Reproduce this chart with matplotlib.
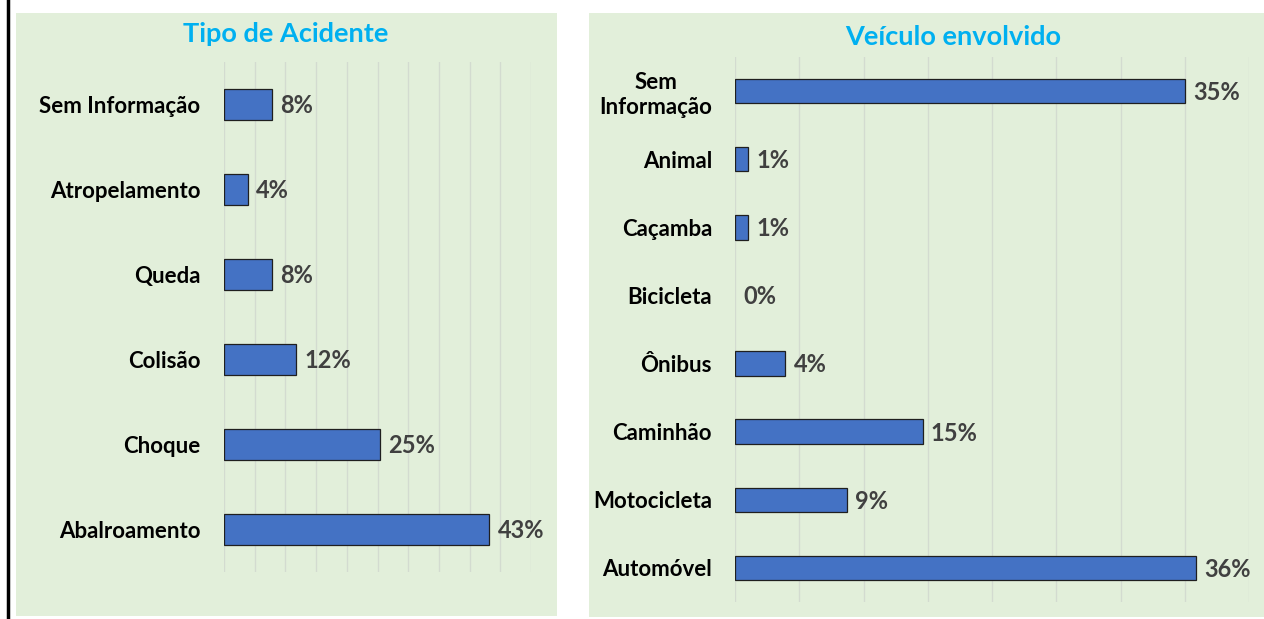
import matplotlib.pyplot as plt
from matplotlib.patches import Rectangle
from matplotlib.lines import Line2D

plt.rcParams["font.family"] = ["Lato", "DejaVu Sans"]

# data, top to bottom as shown
tipo_labels = ["Sem Informação", "Atropelamento", "Queda", "Colisão", "Choque", "Abalroamento"]
tipo_values = [7.8, 3.9, 7.8, 11.7, 25.4, 43.2]

veic_labels = ["Sem\nInformação", "Animal", "Caçamba", "Bicicleta", "Ônibus",
               "Caminhão", "Motocicleta", "Automóvel"]
veic_values = [35.0, 1.0, 1.0, 0.0, 3.9, 14.6, 8.7, 35.9]

BG = "#E2EFDA"
BAR = "#4472C4"
TITLE = "#00B0F0"

W, H = 1264, 619
fig = plt.figure(figsize=(W / 100, H / 100), dpi=100)


def px_rect(x0, y0, x1, y1):
    # pixel box (top-left origin) -> figure fraction rect
    return [x0 / W, 1 - y1 / H, (x1 - x0) / W, (y1 - y0) / H]


# panel backgrounds and the black line on the left
for x0, y0, x1, y1 in [(16, 13, 557, 616), (589, 13, 1264, 617)]:
    l, b, w, h = px_rect(x0, y0, x1, y1)
    fig.patches.append(Rectangle((l, b), w, h, transform=fig.transFigure,
                                 facecolor=BG, edgecolor="none", zorder=-1))
fig.lines.append(Line2D([7.5 / W, 7.5 / W], [0, 1], transform=fig.transFigure,
                        color="black", lw=2.5))


def panel(rect, labels, values, xmax, title, title_xy, pad, title_size):
    ax = fig.add_axes(px_rect(*rect))
    ax.set_facecolor("none")
    ypos = range(len(labels))
    ax.barh(ypos, values, height=0.36, color=BAR, edgecolor="#1f1f1f",
            linewidth=[0.9 if v > 0 else 0 for v in values], zorder=3)
    for y, v in zip(ypos, values):
        ax.annotate(f"{v:.0f}%", (v, y), xytext=(6, -1), textcoords="offset points",
                    ha="left", va="center", fontsize=17, fontweight="bold",
                    color="#404040")
    ax.set_xlim(0, xmax)
    ax.set_ylim(len(labels) - 0.5, -0.5)
    ax.set_xticks(range(0, xmax + 1, 5))
    ax.set_xticklabels([])
    ax.set_yticks(list(ypos))
    ax.set_yticklabels(labels, fontsize=16, fontweight="bold",
                       multialignment="center", linespacing=1.25)
    ax.tick_params(length=0)
    ax.tick_params(axis="y", pad=pad)
    ax.grid(axis="x", color="#D3DBD0", lw=1, zorder=0)
    for s in ax.spines.values():
        s.set_visible(False)
    fig.text(title_xy[0] / W, 1 - title_xy[1] / H, title, ha="center",
             va="center", fontsize=title_size, fontweight="bold", color=TITLE)
    return ax


ax1 = panel((224, 62, 531, 572), tipo_labels, tipo_values, 50,
            "Tipo de Acidente", (286, 34), 17, 19.5)
ax2 = panel((735, 57, 1249, 602), veic_labels, veic_values, 40,
            "Veículo envolvido", (953, 37), 16.5, 19.5)

fig.savefig("out.png", dpi=100)
